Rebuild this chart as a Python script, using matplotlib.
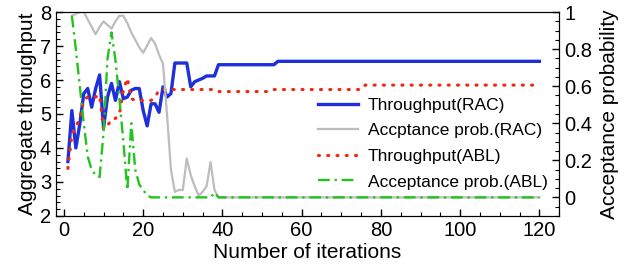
import numpy as np
import matplotlib
matplotlib.use('Agg')
import matplotlib.pyplot as plt
from matplotlib.ticker import MultipleLocator, FormatStrFormatter

plt.rcParams['font.family'] = ['Liberation Sans', 'DejaVu Sans']

# throughput, left axis (iterations 1..120)
thr_rac = [3.6, 5.1, 4.0, 4.7, 5.6, 5.75, 5.2, 5.75, 6.15, 4.6,
           5.5, 5.9, 5.4, 5.95, 5.45, 5.5, 5.7, 5.75, 5.75, 5.1,
           4.65, 5.3, 5.3, 5.05, 5.8, 5.5, 5.6, 6.5, 6.5, 6.5,
           6.5, 5.8, 5.95, 6.0, 6.05, 6.12, 6.12, 6.12] + [6.45] * 15 + [6.55] * 67
thr_abl = [3.4, 4.4, 4.6, 4.9, 5.4, 5.5, 5.5, 5.5, 5.55, 4.55,
           4.65, 4.85, 4.87, 5.0, 5.7, 6.05, 5.45, 5.4, 5.4, 5.4,
           5.4, 5.4, 5.5, 5.7] + [5.72] * 14 + [5.66] * 14 + [5.72] * 23 + [5.85] * 45

# acceptance probability, right axis (iterations 2..120)
acc_rac = [0.98, 0.99, 1.0, 1.0, 0.96, 0.92, 0.88, 0.92, 0.95, 0.93,
           0.91, 0.95, 0.98, 0.98, 0.94, 0.89, 0.85, 0.81, 0.78, 0.82,
           0.86, 0.83, 0.77, 0.72, 0.45, 0.15, 0.03, 0.04, 0.04, 0.21,
           0.12, 0.06, 0.01, 0.03, 0.06, 0.19, 0.04] + [0.0] * 82
acc_abl = [0.98, 0.8, 0.6, 0.4, 0.22, 0.15, 0.12, 0.11, 0.35, 0.75,
           0.89, 0.74, 0.53, 0.3, 0.04, 0.4, 0.15, 0.07, 0.04, 0.01] + [0.0] * 16 + [0.025] + [0.0] * 82

it_thr = np.arange(1, 121)
it_acc = np.arange(2, 121)

fig = plt.figure(figsize=(6.41, 2.74), dpi=100)
ax1 = fig.add_axes([0.0874, 0.212, 0.785, 0.744])
ax2 = ax1.twinx()

l1, = ax1.plot(it_thr, thr_rac, color='#1f2fdc', lw=2.4, label='Throughput(RAC)')
l3, = ax1.plot(it_thr, thr_abl, color='#f02a10', lw=2.3, ls=(0, (0.3, 2.6)),
               dash_capstyle='round', zorder=3, label='Throughput(ABL)')
l2, = ax2.plot(it_acc, acc_rac, color='#bdbdbd', lw=1.6, label='Accptance prob.(RAC)')
l4, = ax2.plot(it_acc, acc_abl, color='#22c41e', lw=1.7, ls=(0, (5, 2, 1, 2)),
               label='Acceptance prob.(ABL)')

ax1.set_xlim(-2, 125)
ax1.set_ylim(2, 8)
ax2.set_ylim(-0.1, 1)

ax1.xaxis.set_major_locator(MultipleLocator(20))
ax1.xaxis.set_minor_locator(MultipleLocator(5))
ax1.yaxis.set_major_locator(MultipleLocator(1))
ax1.yaxis.set_minor_locator(MultipleLocator(0.2))
ax2.yaxis.set_major_locator(MultipleLocator(0.2))
ax2.yaxis.set_minor_locator(MultipleLocator(0.05))
ax2.yaxis.set_major_formatter(FormatStrFormatter('%g'))

ax1.tick_params(which='both', direction='in', labelsize=14.5, top=False, right=False)
ax1.tick_params(which='major', length=5, width=1)
ax1.tick_params(which='minor', length=3, width=0.8)
ax2.tick_params(which='both', direction='in', labelsize=14.5)
ax2.tick_params(which='major', length=5, width=1)
ax2.tick_params(which='minor', length=3, width=0.8)

ax1.set_xlabel('Number of iterations', fontsize=15, labelpad=2)
ax1.set_ylabel('Aggregate throughput', fontsize=15, labelpad=2)
ax2.set_ylabel('Acceptance probability', fontsize=15, labelpad=6)

ax2.legend([l1, l2, l3, l4], [l.get_label() for l in (l1, l2, l3, l4)],
           loc='upper left', bbox_to_anchor=(0.52, 0.58), frameon=False,
           fontsize=12.5, handlelength=2.3, handletextpad=0.6, labelspacing=0.6,
           borderpad=0, borderaxespad=0)

fig.savefig('out.png', dpi=100)
